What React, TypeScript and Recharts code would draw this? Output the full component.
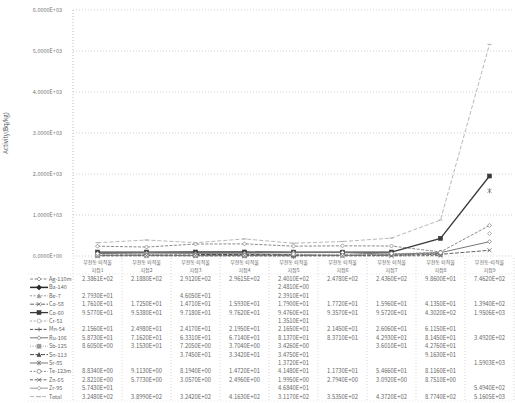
import React from 'react';
import { LineChart, Line, XAxis, YAxis, CartesianGrid } from 'recharts';

const catLine1 = ['부천동 퇴적물', '부천동 퇴적물', '부천동 퇴적물', '부천동 퇴적물', '부천동 퇴적물', '부천동 퇴적물', '부천동 퇴적물', '부천동 퇴적물', '부천동-퇴적물'];
const catLine2 = ['지점1', '지점2', '지점3', '지점4', '지점5', '지점6', '지점7', '지점8', '지점9'];

const seriesNames = ['Ag-110m', 'Ba-140', 'Be-7', 'Co-58', 'Co-60', 'Cr-51', 'Mn-54', 'Ru-106', 'Sb-125', 'Sn-113', 'Sr-85', 'Te-123m', 'Zn-65', 'Zr-95', 'Total'];

const ag110m = [238.61, 218.8, 291.2, 296.15, 240.1, 247.8, 243.6, 98.6, 746.2];
const ba140 = [null, null, null, null, 2.481, null, null, null, null];
const be7 = [27.93, null, 46.05, null, 23.91, null, null, null, null];
const co58 = [17.61, 17.25, 14.71, 15.93, 17.90, 17.72, 15.96, 41.35, 139.4];
const co60 = [95.77, 95.38, 97.18, 97.62, 94.76, 93.57, 95.72, 430.2, 1950.6];
const cr51 = [null, null, null, null, 13.51, null, null, null, null];
const mn54 = [21.56, 24.98, 24.17, 21.95, 21.65, 21.45, 26.06, 61.15, null];
const ru106 = [58.73, 71.62, 63.31, 67.14, 81.37, 83.71, 42.93, 81.45, 349.2];
const sb125 = [8.605, 31.53, 7.205, 3.704, 3.426, null, 36.01, 42.76, null];
const sn113 = [null, null, 37.45, 33.42, 34.75, null, null, 91.63, null];
const sr85 = [null, null, null, null, 13.72, null, null, null, 1590.3];
const te123m = [8.834, 9.113, 8.194, 14.72, 41.48, 11.73, 54.66, 81.16, null];
const zn65 = [2.821, 5.773, 3.057, 2.496, 1.995, 2.794, 3.092, 8.751, null];
const zr95 = [57.43, null, null, null, 46.84, null, null, null, 549.4];
const total = [324.8, 389.9, 324.2, 416.3, 311.7, 353.5, 437.2, 877.4, 5160.5];

const seriesValues = [ag110m, ba140, be7, co58, co60, cr51, mn54, ru106, sb125, sn113, sr85, te123m, zn65, zr95, total];

const yTicks = [0, 1000, 2000, 3000, 4000, 5000, 6000];

const styles = [
  { color: '#8a8a8a', dash: '3 1.5', marker: 'diamond', width: 1 },
  { color: '#2a2a2a', dash: '', marker: 'diamondFill', width: 1.5 },
  { color: '#9a9a9a', dash: '2 1.5', marker: 'triangle', width: 1 },
  { color: '#666666', dash: '4 1.5', marker: 'x', width: 1 },
  { color: '#3a3a3a', dash: '', marker: 'square', width: 1.3 },
  { color: '#aaaaaa', dash: '2 1.5', marker: 'circle', width: 1 },
  { color: '#555555', dash: '3 1.5', marker: 'plus', width: 1 },
  { color: '#777777', dash: '', marker: 'diamond', width: 1 },
  { color: '#999999', dash: '1 1.5', marker: 'square', width: 1 },
  { color: '#4a4a4a', dash: '4 1.5', marker: 'triangle', width: 1 },
  { color: '#777777', dash: '', marker: 'star', width: 1 },
  { color: '#888888', dash: '2 1.5', marker: 'circle', width: 1 },
  { color: '#666666', dash: '3 1.5', marker: 'x', width: 1 },
  { color: '#999999', dash: '', marker: 'diamond', width: 1 },
  { color: '#b8b8b8', dash: '4 2', marker: 'dash', width: 1 },
];

const data = catLine1.map((c, i) => {
  const row: any = { name: c + ' ' + catLine2[i] };
  seriesValues.forEach((vals, s) => {
    row['s' + s] = vals[i];
  });
  return row;
});

const fmt = (v: number) => {
  const [m, e] = v.toExponential(4).split('e');
  const sign = e[0];
  const digits = e.slice(1).padStart(2, '0');
  return `${m}E${sign}${digits}`;
};

const Marker = ({ cx, cy, shape, color }: any) => {
  const r = 2;
  switch (shape) {
    case 'diamond':
      return <polygon points={`${cx},${cy - r} ${cx + r},${cy} ${cx},${cy + r} ${cx - r},${cy}`} fill="#fff" stroke={color} strokeWidth={0.8} />;
    case 'diamondFill':
      return <polygon points={`${cx},${cy - r - 0.5} ${cx + r + 0.5},${cy} ${cx},${cy + r + 0.5} ${cx - r - 0.5},${cy}`} fill={color} stroke={color} strokeWidth={0.8} />;
    case 'square':
      return <rect x={cx - r} y={cy - r} width={2 * r} height={2 * r} fill={color} stroke={color} strokeWidth={0.6} />;
    case 'triangle':
      return <polygon points={`${cx},${cy - r} ${cx + r},${cy + r} ${cx - r},${cy + r}`} fill={color} stroke={color} strokeWidth={0.6} />;
    case 'x':
      return <path d={`M${cx - r},${cy - r}L${cx + r},${cy + r}M${cx - r},${cy + r}L${cx + r},${cy - r}`} stroke={color} strokeWidth={0.8} />;
    case 'plus':
      return <path d={`M${cx - r},${cy}L${cx + r},${cy}M${cx},${cy - r}L${cx},${cy + r}`} stroke={color} strokeWidth={0.8} />;
    case 'star':
      return <path d={`M${cx - r},${cy - r}L${cx + r},${cy + r}M${cx - r},${cy + r}L${cx + r},${cy - r}M${cx},${cy - r - 0.5}L${cx},${cy + r + 0.5}`} stroke={color} strokeWidth={0.8} />;
    case 'circle':
      return <circle cx={cx} cy={cy} r={r} fill="#fff" stroke={color} strokeWidth={0.8} />;
    case 'dash':
      return <path d={`M${cx - r},${cy}L${cx + r},${cy}`} stroke={color} strokeWidth={1.2} />;
    default:
      return null;
  }
};

const FONT = "'Noto Sans CJK KR', 'Liberation Sans', sans-serif";

const PLOT_LEFT = 73;
const PLOT_RIGHT = 514;
const COL_W = (PLOT_RIGHT - PLOT_LEFT) / catLine1.length;
const TABLE_TOP = 258;
const ROW0 = 279;
const ROW_H = 8.4;

const DataTable = () => {
  const els: any[] = [];
  for (let k = 0; k <= catLine1.length; k++) {
    const x = PLOT_LEFT + k * COL_W;
    els.push(<line key={'v' + k} x1={x} x2={x} y1={TABLE_TOP} y2={402} stroke="#bbb" strokeWidth={0.6} strokeDasharray="1 2" />);
  }
  els.push(<line key="hh" x1={28} x2={PLOT_RIGHT} y1={ROW0 - 5} y2={ROW0 - 5} stroke="#ccc" strokeWidth={0.5} strokeDasharray="1 2" />);
  els.push(<line key="hb" x1={28} x2={PLOT_RIGHT} y1={401} y2={401} stroke="#ccc" strokeWidth={0.5} strokeDasharray="1 2" />);
  catLine1.forEach((c, i) => {
    const x = PLOT_LEFT + (i + 0.5) * COL_W;
    els.push(<text key={'h1' + i} x={x} y={263.5} fontSize={5} fill="#666" textAnchor="middle" fontFamily={FONT}>{c}</text>);
    els.push(<text key={'h2' + i} x={x} y={271.5} fontSize={5} fill="#666" textAnchor="middle" fontFamily={FONT}>{catLine2[i]}</text>);
  });
  seriesNames.forEach((n, s) => {
    const y = ROW0 + s * ROW_H;
    const st = styles[s];
    els.push(<line key={'lk' + s} x1={30} x2={48} y1={y} y2={y} stroke={st.color} strokeWidth={st.width} strokeDasharray={st.dash} />);
    els.push(<g key={'lm' + s}><Marker cx={39} cy={y} shape={st.marker} color={st.color} /></g>);
    els.push(<text key={'ln' + s} x={49} y={y + 2} fontSize={5.5} fill="#666" fontFamily={FONT}>{n}</text>);
    seriesValues[s].forEach((v, i) => {
      if (v === null || v === undefined) return;
      const x = PLOT_LEFT + (i + 0.5) * COL_W;
      els.push(<text key={'c' + s + '_' + i} x={x} y={y + 2} fontSize={5.8} fill="#666" textAnchor="middle" fontFamily={FONT}>{fmt(v as number)}</text>);
    });
  });
  return (
    <svg width={515} height={403} style={{ position: 'absolute', left: 0, top: 0, pointerEvents: 'none' }}>
      {els}
    </svg>
  );
};

export default function App() {
  return (
    <div style={{ position: 'absolute', left: 0, top: 0, width: 515, height: 403, background: '#fff', fontFamily: FONT }}>
      <LineChart width={515} height={403} data={data} margin={{ top: 10, right: 1, left: 0, bottom: 147 }}>
        <CartesianGrid vertical={false} stroke="#bbb" strokeDasharray="1 2" strokeWidth={0.7} />
        <XAxis dataKey="name" hide padding={{ left: COL_W / 2, right: COL_W / 2 }} />
        <YAxis
          width={73}
          domain={[0, 6000]}
          ticks={yTicks}
          tickFormatter={fmt}
          tickLine={false}
          tickMargin={5}
          axisLine={{ stroke: '#bbb', strokeDasharray: '1 2' }}
          tick={{ fontSize: 5.5, fill: '#777', fontFamily: FONT }}
          label={{ value: 'Activity(Bq/kg)', angle: -90, position: 'insideLeft', offset: 6, style: { fontSize: 6, fill: '#555', fontFamily: FONT, textAnchor: 'middle' } }}
        />
        {seriesNames.map((n, s) => {
          const st = styles[s];
          return (
            <Line
              key={n}
              type="linear"
              dataKey={'s' + s}
              name={n}
              stroke={st.color}
              strokeWidth={st.width}
              strokeDasharray={st.dash}
              isAnimationActive={false}
              connectNulls={false}
              dot={(p: any) => {
                if (p.cx == null || p.cy == null || p.value == null) return <g key={'d' + s + '_' + p.index} />;
                return <g key={'d' + s + '_' + p.index}><Marker cx={p.cx} cy={p.cy} shape={st.marker} color={st.color} /></g>;
              }}
            />
          );
        })}
      </LineChart>
      <DataTable />
    </div>
  );
}
